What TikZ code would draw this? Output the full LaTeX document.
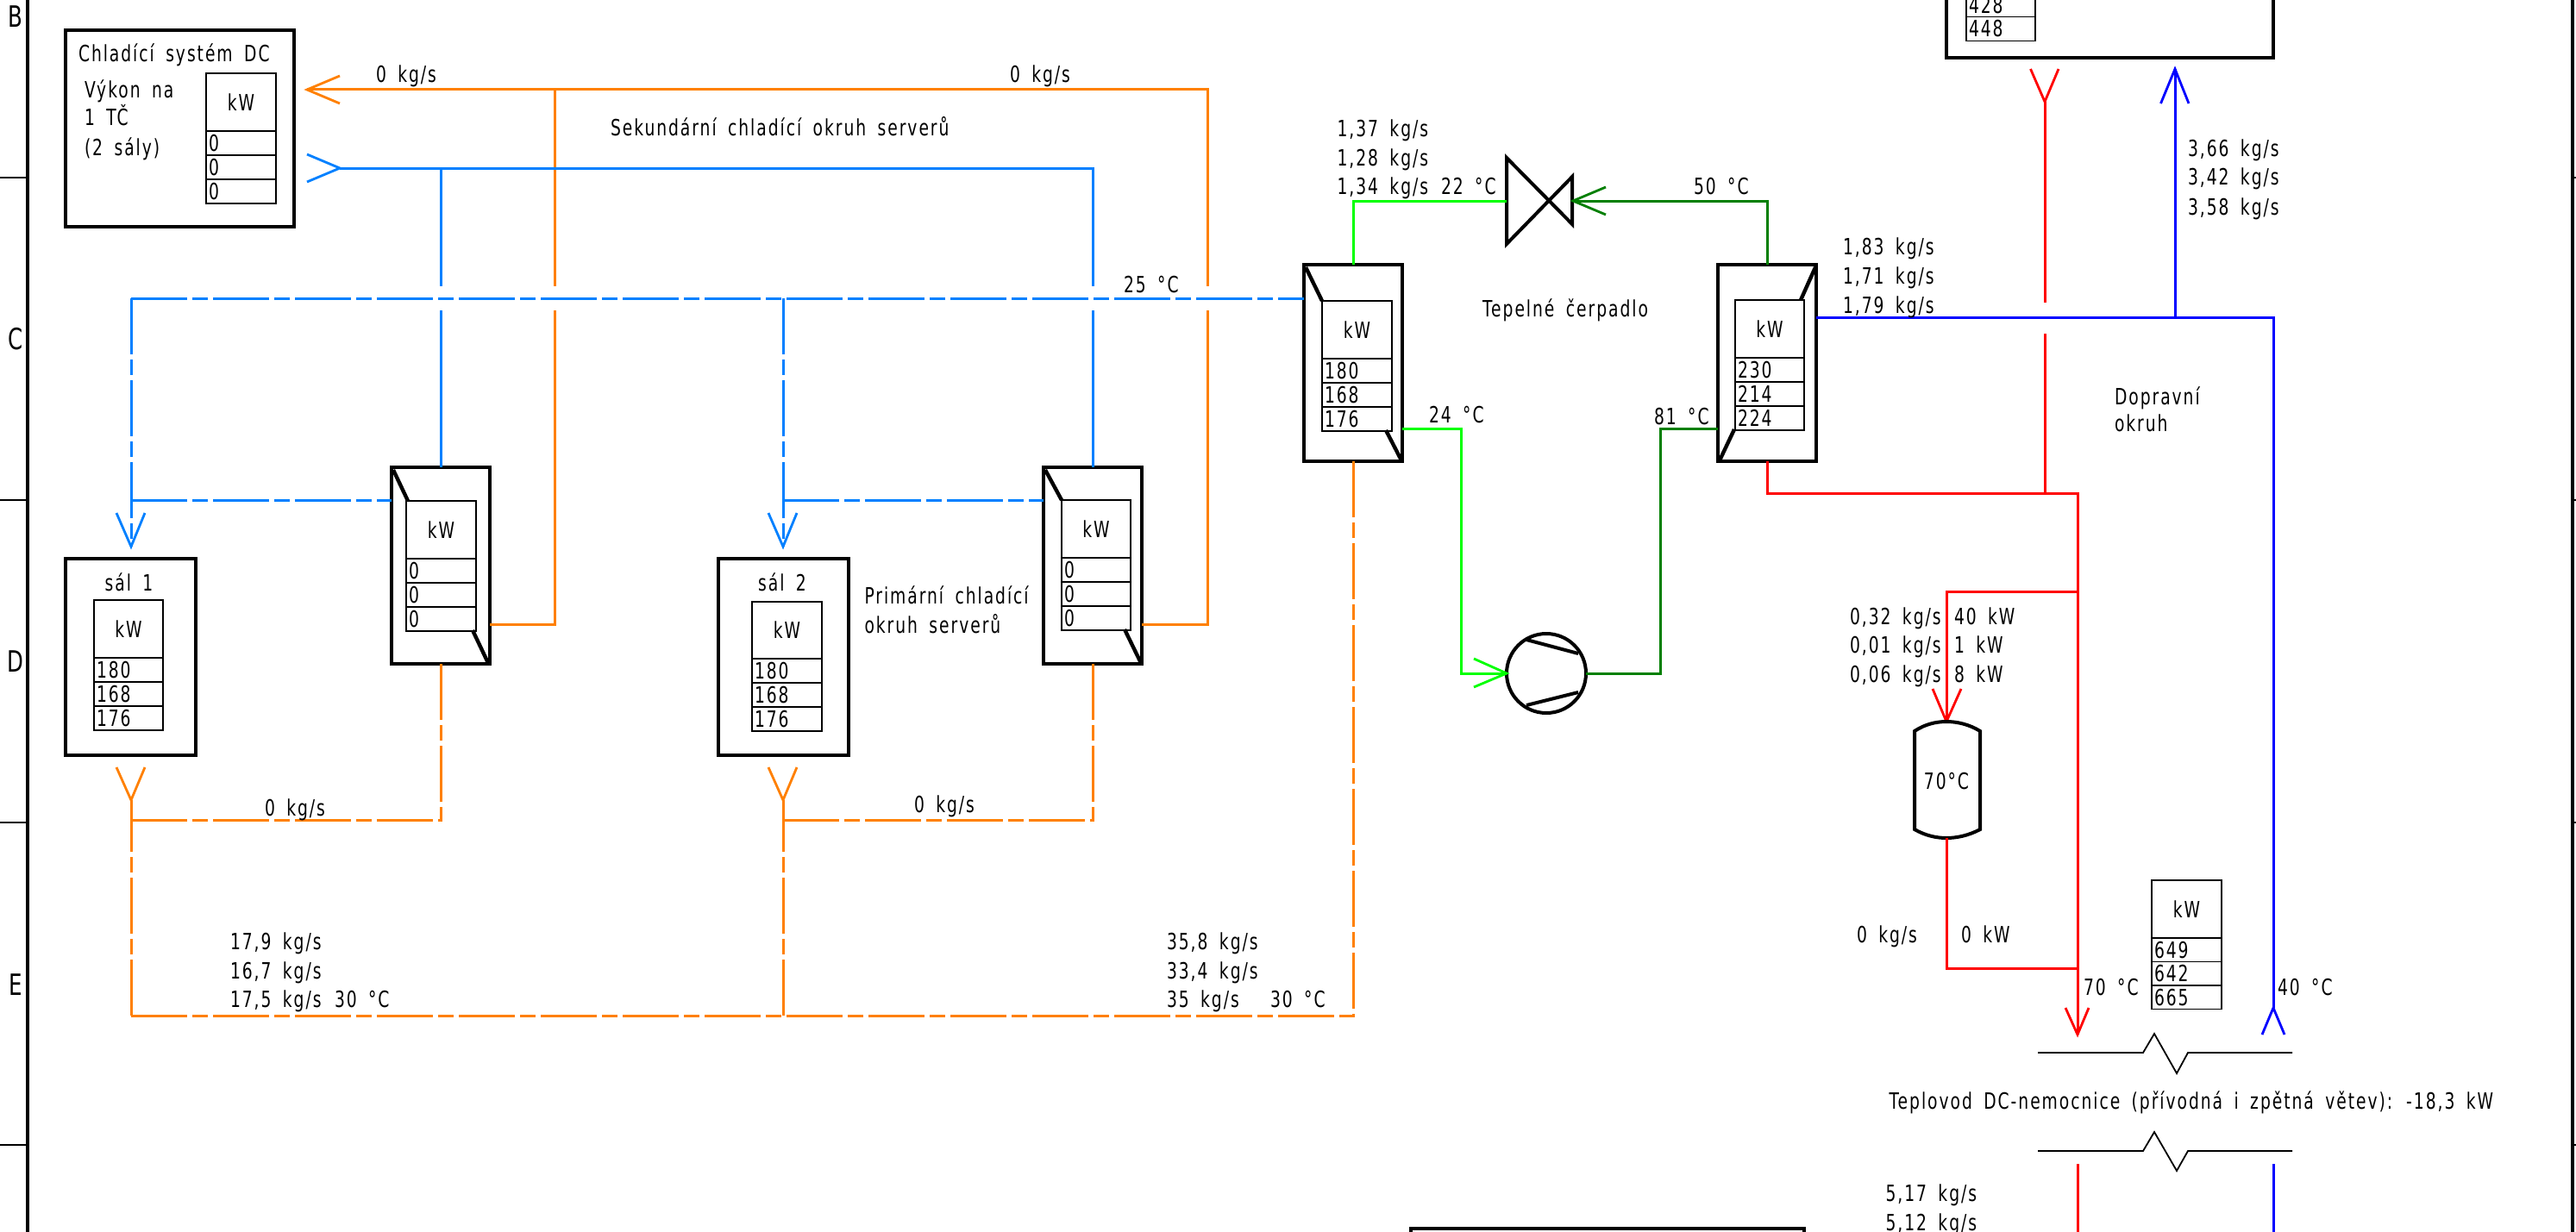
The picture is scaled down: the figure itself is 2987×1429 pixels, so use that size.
\documentclass[tikz,border=0pt]{standalone}
\usepackage{fontspec}
\setmainfont{DejaVu Sans}[FakeStretch=0.72,LetterSpace=7.5,WordSpace=1.7]
\definecolor{cOr}{HTML}{FF8000}
\definecolor{cBl}{HTML}{0080FF}
\definecolor{cLg}{HTML}{00FF00}
\definecolor{cDg}{HTML}{007F00}
\definecolor{cRd}{HTML}{FF0000}
\definecolor{cDb}{HTML}{0000FF}
\newcommand{\tfs}{\fontsize{13}{13}\selectfont}
\tikzset{
  x=0.5pt,y=-0.5pt,
  heavy/.style={draw=black,line width=2.4pt,minimum width=#1*0.5pt,inner sep=0,outer sep=0},
  cell/.style n args={2}{draw=black,line width=0.9pt,minimum width=#1*0.5pt,minimum height=#2*0.5pt,inner sep=0,outer sep=0},
  txt/.style={anchor=base west,inner sep=0,outer sep=0,font=\tfs},
  pipe/.style={line width=1.5pt,line join=miter},
  pipedash/.style={line width=1.5pt,dash pattern=on 32.5pt off 3pt on 9pt off 3pt},
  barb/.style={line width=1.4pt,line join=miter},
  thick diag/.style={line width=2.2pt},
  symb/.style={line width=2pt},
  brk/.style={draw=black,line width=0.9pt}
}
\newcommand{\lbl}[4]{\node[txt] (#1) at (#2,#3+9) {#4};}
% name, x, ytop, width, header height, row height, values
\newcommand{\kwtab}[8]{%
  \node[cell={#4}{#5},anchor=north west,font=\tfs] (#1h) at (#2,#3) {kW};
  \node[cell={#4}{#6},anchor=north west,font=\tfs,text width=(#4-6)*0.5pt,align=left] (#1a) at (#1h.south west) {#7};
  \node[cell={#4}{#6},anchor=north west,font=\tfs,text width=(#4-6)*0.5pt,align=left] (#1b) at (#1a.south west) {#8};
}
\newcommand{\kwrow}[5]{%
  \node[cell={#3}{#4},anchor=north west,font=\tfs,text width=(#3-6)*0.5pt,align=left] (#1) at (#2.south west) {#5};
}
\begin{document}
\begin{tikzpicture}
\useasboundingbox (0,0) rectangle (2987,1429);
% sheet frame
\draw[line width=1.6pt] (32,0) -- (32,1429);
\draw[line width=1.6pt] (2983,0) -- (2983,1429);
\foreach \yy in {206,580,954,1328}{
  \draw[line width=1pt] (0,\yy) -- (32,\yy);
  \draw[line width=1pt] (2983,\yy) -- (2987,\yy);
}
\node[anchor=center,inner sep=0,font=\fontsize{17}{17}\selectfont] (rowB) at (18,19) {B};
\node[anchor=center,inner sep=0,font=\fontsize{17}{17}\selectfont] (rowC) at (18,393) {C};
\node[anchor=center,inner sep=0,font=\fontsize{17}{17}\selectfont] (rowD) at (18,767) {D};
\node[anchor=center,inner sep=0,font=\fontsize{17}{17}\selectfont] (rowE) at (18,1142) {E};

% equipment boxes
\node[heavy=265,minimum height=114pt,anchor=north west] (dc) at (76,35) {};
\node[heavy=151,minimum height=114pt,anchor=north west] (sal1) at (76,648) {};
\node[heavy=151,minimum height=114pt,anchor=north west] (sal2) at (833,648) {};
\node[heavy=114,minimum height=114pt,anchor=north west] (hxa) at (454,542) {};
\node[heavy=114,minimum height=114pt,anchor=north west] (hxb) at (1210,542) {};
\node[heavy=114,minimum height=114pt,anchor=north west] (hxc) at (1512,307) {};
\node[heavy=114,minimum height=114pt,anchor=north west] (hxe) at (1992,307) {};
\node[heavy=379,minimum height=50pt,anchor=south west] (top) at (2257,67) {};
\node[heavy=456,minimum height=30pt,anchor=north west] (bot) at (1636,1425) {};

% coordinates for connector free ends
\coordinate (oTip) at (356,104);
\coordinate (bTail) at (394,195);
\coordinate (oA) at (643,104);
\coordinate (oB) at (1400,104);
\coordinate (oAend) at (643,332);
\coordinate (oAstart) at (643,360);
\coordinate (oBend) at (1400,332);
\coordinate (oBstart) at (1400,360);
\coordinate (bA) at (511,195);
\coordinate (bB) at (1267,195);
\coordinate (bAend) at (511,332);
\coordinate (bAstart) at (511,360);
\coordinate (bBend) at (1267,332);
\coordinate (bBstart) at (1267,360);
\coordinate (mainL) at (152,346);
\coordinate (mainM) at (908,346);
\coordinate (tipa) at (152,634);
\coordinate (tipb) at (908,634);
\coordinate (rca) at (152,580);
\coordinate (rcb) at (908,580);
\coordinate (ya) at (152,928);
\coordinate (yb) at (908,928);
\coordinate (botL) at (152,1178);
\coordinate (botM) at (908,1178);
\coordinate (botR) at (1569,1178);
\coordinate (obA) at (152,951);
\coordinate (obB) at (908,951);
\coordinate (pumpTip) at (1747,781);

% secondary loop
\draw[pipe,cOr] (oTip) -- (oB) -- (oBend);
\draw[pipe,cOr] (oA) -- (oAend);
\draw[pipe,cOr] (oAstart) |- (hxa.east |- 0,724);
\draw[pipe,cOr] (oBstart) |- (hxb.east |- 0,724);
\draw[pipe,cBl] (bTail) -- (bB) -- (bBend);
\draw[pipe,cBl] (bA) -- (bAend);
\draw[pipe,cBl] (bAstart) -- (bA |- hxa.north);
\draw[pipe,cBl] (bBstart) -- (bB |- hxb.north);
\draw[barb,cOr] (394,88) -- (oTip) -- (394,120);
\draw[barb,cBl] (356,179) -- (bTail) -- (356,211);
% primary loop
\draw[pipedash,cBl] (mainL) -- (hxc.west |- mainL);
\draw[pipedash,cBl] (mainL) -- (tipa);
\draw[pipedash,cBl] (mainM) -- (tipb);
\draw[pipedash,cBl] (rca) -- (hxa.west |- rca);
\draw[pipedash,cBl] (rcb) -- (hxb.west |- rcb);
\draw[barb,cBl] (135,595) -- (tipa) -- (168,595);
\draw[barb,cBl] (891,595) -- (tipb) -- (924,595);
\draw[pipedash,cOr] (botL) -- (botR) -- (hxc.south);
\draw[pipedash,cOr] (botL) -- (ya);
\draw[pipedash,cOr] (botM) -- (yb);
\draw[pipedash,cOr] (obA) -| (hxa.south);
\draw[pipedash,cOr] (obB) -| (hxb.south);
\draw[barb,cOr] (135,890) -- (ya) -- (168,890);
\draw[barb,cOr] (891,890) -- (yb) -- (924,890);
% heat pump circuit
\node[draw=black,circle,symb,minimum size=46pt,inner sep=0,outer sep=0] (pump) at (1793,781) {};
\draw[symb] (1770,742) -- (1830,758);
\draw[symb] (1770,818) -- (1830,803);
\coordinate (vL) at (1747,233);
\coordinate (vR) at (1824,233);
\draw[symb,line join=miter] (vL) -- (1747,183) -- (1823,260) -- (1823,205) -- (1747,283) -- cycle;
\draw[pipe,cLg] (hxc.north) |- (vL);
\draw[pipe,cDg] (hxe.north) |- (vR);
\draw[barb,cDg] (1862,217) -- (vR) -- (1862,249);
\draw[pipe,cLg] (hxc.east |- 0,497) -| (1694,781) -- (pumpTip);
\draw[barb,cLg] (1709,764) -- (pumpTip) -- (1709,797);
\draw[pipe,cDg] (pump.east) -| (1925,497) -- (hxe.west |- 0,497);
% transport circuit
\coordinate (rTop) at (2371,118);
\coordinate (rGapA) at (2371,351);
\coordinate (rGapB) at (2371,387);
\coordinate (rJ) at (2371,572);
\coordinate (rS) at (2409,572);
\coordinate (rT) at (2409,686);
\coordinate (rTip) at (2409,1200);
\coordinate (tankTop) at (2257,837);
\coordinate (bJ) at (2522,368);
\coordinate (bTip) at (2522,80);
\coordinate (bCorner) at (2636,368);
\coordinate (bY) at (2636,1169);
\draw[pipe,cRd] (rTop) -- (rGapA);
\draw[pipe,cRd] (rGapB) -- (rJ);
\draw[pipe,cRd] (hxe.south) |- (rS) -- (rTip);
\draw[pipe,cRd] (rT) -| (tankTop);
\draw[barb,cRd] (2354.5,80) -- (rTop) -- (2387,80);
\draw[barb,cRd] (2241,799) -- (tankTop) -- (2274,799);
\draw[barb,cRd] (2395,1169) -- (rTip) -- (2422,1169);
\draw[pipe,cDb] (hxe.east |- bJ) -- (bCorner) -- (bY);
\draw[pipe,cDb] (bJ) -- (bTip);
\draw[barb,cDb] (2505.5,120) -- (bTip) -- (2538,120);
\draw[barb,cDb] (2623,1200) -- (bY) -- (2649,1200);
% tank
\coordinate (tankBot) at (2257,972);
\draw[symb,fill=white] (2220,848) .. controls (2232,840) and (2245,837) .. (tankTop) .. controls (2269,837) and (2283,840) .. (2296,848) -- (2296,962) .. controls (2283,969) and (2269,972) .. (tankBot) .. controls (2245,972) and (2232,969) .. (2220,962) -- cycle;
\draw[pipe,cRd] (tankBot) |- (2409,1123);
\node[inner sep=0,font=\tfs] (tankT) at (2257,906) {70°C};
% breaks
\draw[brk] (2363,1221) -- (2485,1221) -- (2498,1199) -- (2524,1245) -- (2537,1221) -- (2658,1221);
\draw[brk] (2363,1335) -- (2485,1335) -- (2498,1313) -- (2524,1358) -- (2537,1335) -- (2658,1335);
\draw[pipe,cRd] (2409,1350) -- (2409,1429);
\draw[pipe,cDb] (2636,1350) -- (2636,1429);

% diagonals in exchangers
\draw[thick diag] (456,545) -- (473,581);
\draw[thick diag] (548,731) -- (566,769);
\draw[thick diag] (1212,545) -- (1231,580);
\draw[thick diag] (1304,730) -- (1323,769);
\draw[thick diag] (1514,310) -- (1533,349);
\draw[thick diag] (1607,499) -- (1625,534);
\draw[thick diag] (2105,310) -- (2088,348);
\draw[thick diag] (1994,534) -- (2011,498);

% kW tables
\kwtab{ta}{239}{85}{81}{67}{28}{0}{0}\kwrow{tac}{tab}{81}{28}{0}
\kwtab{tb}{109}{696}{80}{67}{28}{180}{168}\kwrow{tbc}{tbb}{80}{28}{176}
\kwtab{tc}{872}{698}{81}{66}{28}{180}{168}\kwrow{tcc}{tcb}{81}{28}{176}
\kwtab{td}{471}{581}{81}{67}{28}{0}{0}\kwrow{tdc}{tdb}{81}{28}{0}
\kwtab{te}{1231}{580}{80}{67}{28}{0}{0}\kwrow{tec}{teb}{80}{28}{0}
\kwtab{tf}{1533}{349}{81}{67}{28}{180}{168}\kwrow{tfc}{tfb}{81}{28}{176}
\kwtab{tg}{2012}{348}{80}{67}{28}{230}{214}\kwrow{tgc}{tgb}{80}{28}{224}
\kwtab{th}{2495}{1021}{81}{67}{27.5}{649}{642}\kwrow{thc}{thb}{81}{27.5}{665}
\node[cell={80}{27.5},anchor=north west,font=\tfs,text width=74*0.5pt,align=left] (tia) at (2280,-8) {428};
\kwrow{tib}{tia}{80}{28}{448}

% labels
\lbl{l1}{91}{63}{Chladící systém DC}
\lbl{l2}{98}{105}{Výkon na}
\lbl{l3}{98}{137}{1 TČ}
\lbl{l4}{98}{171}{(2 sály)}
\lbl{l5}{436}{87}{0 kg/s}
\lbl{l6}{1171}{87}{0 kg/s}
\lbl{l7}{708}{148}{Sekundární chladící okruh serverů}
\lbl{l8}{1303}{330}{25 °C}
\node[inner sep=0,font=\tfs] (l9) at (149.5,675) {sál 1};
\node[inner sep=0,font=\tfs] (l10) at (907,675) {sál 2};
\lbl{l11}{1002.5}{691}{Primární chladící}
\lbl{l12}{1002.5}{725}{okruh serverů}
\lbl{l13}{307}{937}{0 kg/s}
\lbl{l14}{1060}{933}{0 kg/s}
\lbl{l15}{267}{1092}{17,9 kg/s}
\lbl{l16}{267}{1126}{16,7 kg/s}
\lbl{l17}{267}{1159}{17,5 kg/s}
\lbl{l18}{388}{1159}{30 °C}
\lbl{l19}{1353}{1092}{35,8 kg/s}
\lbl{l20}{1353}{1126}{33,4 kg/s}
\lbl{l21}{1353}{1159}{35 kg/s}
\lbl{l22}{1473}{1159}{30 °C}
\lbl{l23}{1550.5}{149}{1,37 kg/s}
\lbl{l24}{1550.5}{183}{1,28 kg/s}
\lbl{l25}{1550.5}{216}{1,34 kg/s}
\lbl{l26}{1671}{216}{22 °C}
\lbl{l27}{1964}{216}{50 °C}
\lbl{l28}{1719}{358}{Tepelné čerpadlo}
\lbl{l29}{1657}{481}{24 °C}
\lbl{l30}{1918}{483}{81 °C}
\lbl{l31}{2137}{286}{1,83 kg/s}
\lbl{l32}{2137}{320}{1,71 kg/s}
\lbl{l33}{2137}{354}{1,79 kg/s}
\lbl{l34}{2537}{172}{3,66 kg/s}
\lbl{l35}{2537}{205}{3,42 kg/s}
\lbl{l36}{2537}{240}{3,58 kg/s}
\lbl{l37}{2452}{460}{Dopravní}
\lbl{l38}{2452}{491}{okruh}
\lbl{l39}{2145}{715}{0,32 kg/s}
\lbl{l40}{2145}{748}{0,01 kg/s}
\lbl{l41}{2145}{782}{0,06 kg/s}
\lbl{l42}{2266}{715}{40 kW}
\lbl{l43}{2266}{748}{1 kW}
\lbl{l44}{2266}{782}{8 kW}
\lbl{l45}{2153}{1084}{0 kg/s}
\lbl{l46}{2274}{1084}{0 kW}
\lbl{l47}{2416}{1145}{70 °C}
\lbl{l48}{2641}{1145}{40 °C}
\lbl{l49}{2190.5}{1277}{Teplovod DC-nemocnice (přívodná i zpětná větev): -18,3 kW}
\lbl{l50}{2186.5}{1384}{5,17 kg/s}
\lbl{l51}{2186.5}{1418}{5,12 kg/s}
\end{tikzpicture}
\end{document}
